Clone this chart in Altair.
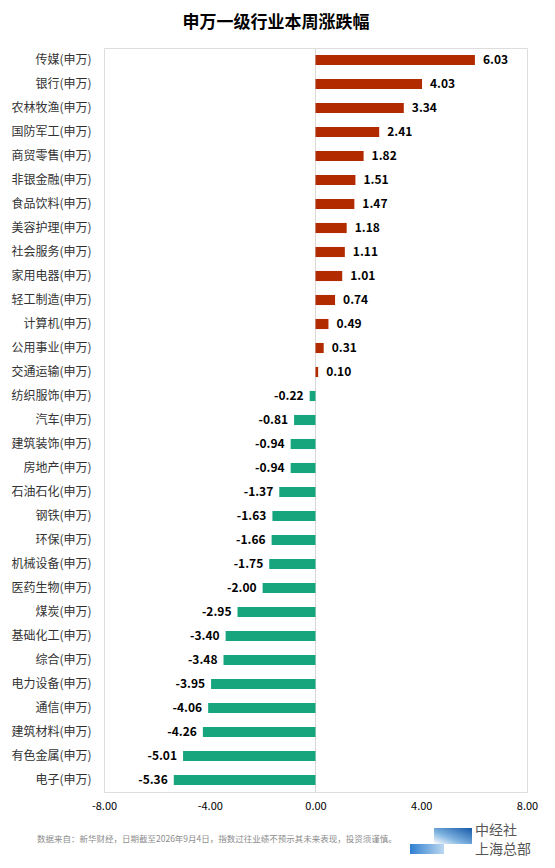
import altair as alt
import pandas as pd

categories = ["传媒(申万)", "银行(申万)", "农林牧渔(申万)", "国防军工(申万)", "商贸零售(申万)",
              "非银金融(申万)", "食品饮料(申万)", "美容护理(申万)", "社会服务(申万)", "家用电器(申万)",
              "轻工制造(申万)", "计算机(申万)", "公用事业(申万)", "交通运输(申万)", "纺织服饰(申万)",
              "汽车(申万)", "建筑装饰(申万)", "房地产(申万)", "石油石化(申万)", "钢铁(申万)",
              "环保(申万)", "机械设备(申万)", "医药生物(申万)", "煤炭(申万)", "基础化工(申万)",
              "综合(申万)", "电力设备(申万)", "通信(申万)", "建筑材料(申万)", "有色金属(申万)",
              "电子(申万)"]
values = [6.03, 4.03, 3.34, 2.41, 1.82, 1.51, 1.47, 1.18, 1.11, 1.01, 0.74, 0.49, 0.31, 0.10,
          -0.22, -0.81, -0.94, -0.94, -1.37, -1.63, -1.66, -1.75, -2.00, -2.95, -3.40, -3.48,
          -3.95, -4.06, -4.26, -5.01, -5.36]
x_ticks = [-8, -4, 0, 4, 8]

title_text = "申万一级行业本周涨跌幅"
footer_text = "数据来自：新华财经，日期截至2026年9月4日，指数过往业绩不预示其未来表现，投资须谨慎。"
logo_lines = ["中经社", "上海总部"]

FONT = "Noto Sans CJK SC"
W, H = 423, 744

df = pd.DataFrame({"cat": categories, "val": values})
df["sign"] = ["pos" if v >= 0 else "neg" for v in values]
df["lab"] = [f"{v:.2f}" for v in values]

xscale = alt.Scale(domain=[-8, 8], nice=False)
yscale = alt.Scale(paddingInner=0.58, paddingOuter=0.29)

base = alt.Chart(df)

bars = base.mark_bar().encode(
    x=alt.X("val:Q", scale=xscale,
            axis=alt.Axis(values=x_ticks, format=".2f", title=None, grid=False, domain=False,
                          ticks=False, labelPadding=8, labelFontSize=11, labelColor="#000",
                          labelFont=FONT, labelFlush=False,
                          labelExpr="replace(datum.label, '\u2212', '-')")),
    y=alt.Y("cat:N", sort=categories, scale=yscale,
            axis=alt.Axis(title=None, domain=False, ticks=False, labelPadding=13,
                          labelFontSize=12, labelColor="#333", labelFont=FONT)),
    color=alt.Color("sign:N", scale=alt.Scale(domain=["pos", "neg"], range=["#B22B00", "#17A57E"]),
                    legend=None),
)

zero = alt.Chart(pd.DataFrame({"z": [0]})).mark_rule(color="#d9d9d9", strokeWidth=1).encode(
    x=alt.X("z:Q", scale=xscale)
)

pos_lab = base.transform_filter("datum.val >= 0").mark_text(
    align="left", baseline="middle", dx=8, fontSize=12, fontWeight="bold", font=FONT, color="#000"
).encode(x="val:Q", y=alt.Y("cat:N", sort=categories), text="lab:N")

neg_lab = base.transform_filter("datum.val < 0").mark_text(
    align="right", baseline="middle", dx=-6, fontSize=12, fontWeight="bold", font=FONT, color="#000"
).encode(x="val:Q", y=alt.Y("cat:N", sort=categories), text="lab:N")

title = alt.Chart(pd.DataFrame({"t": [title_text]})).mark_text(
    align="center", baseline="middle", fontSize=17, fontWeight="bold", font=FONT, color="#000"
).encode(x=alt.value(172), y=alt.value(-25), text="t:N")

footer = alt.Chart(pd.DataFrame({"t": [footer_text]})).mark_text(
    align="left", baseline="middle", fontSize=8.5, font=FONT, color="#8c8c8c"
).encode(x=alt.value(-67), y=alt.value(791), text="t:N")

logo_df = pd.DataFrame({"t": logo_lines, "yy": [783, 802]})
logo_text = alt.Chart(logo_df).mark_text(
    align="left", baseline="middle", fontSize=14, font=FONT, color="#555"
).encode(x=alt.value(371), y=alt.Y("yy:Q", scale=None), text="t:N")

logo_up = alt.Chart(pd.DataFrame({"a": [1]})).mark_rect(
    color=alt.LinearGradient(gradient="linear", x1=0, x2=1, y1=1, y2=0,
                             stops=[alt.GradientStop(color="#ffffff", offset=0),
                                    alt.GradientStop(color="#7fb3e0", offset=0.4),
                                    alt.GradientStop(color="#1659a8", offset=1)])
).encode(x=alt.value(330), x2=alt.value(368), y=alt.value(780), y2=alt.value(796))

logo_low = alt.Chart(pd.DataFrame({"a": [1]})).mark_rect(
    color=alt.LinearGradient(gradient="linear", x1=0, x2=1, y1=0, y2=0,
                             stops=[alt.GradientStop(color="#2f7fd0", offset=0),
                                    alt.GradientStop(color="#bcd8f0", offset=1)])
).encode(x=alt.value(306), x2=alt.value(340), y=alt.value(796), y2=alt.value(806))

chart = alt.layer(zero, bars, pos_lab, neg_lab, title, footer, logo_up, logo_low, logo_text).properties(
    width=W, height=H,
    autosize=alt.AutoSizeParams(type="none"),
    padding={"left": 96, "top": 40, "right": 20, "bottom": 76},
).configure_view(stroke=None).configure(font=FONT)

chart.save("out.html", embed_options={"renderer": "svg", "actions": False})
